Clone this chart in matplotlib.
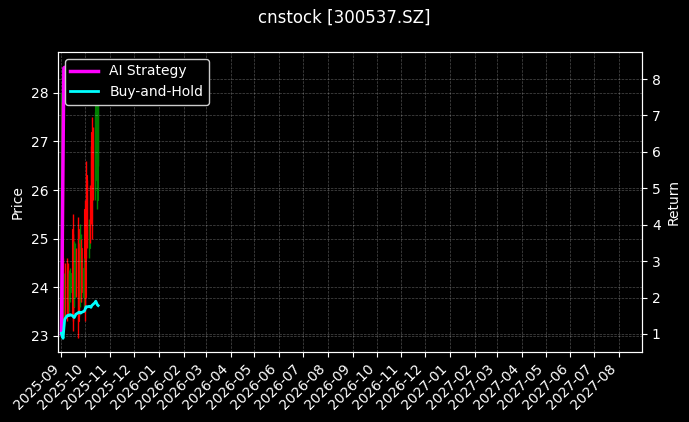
import numpy as np
import pandas as pd
import matplotlib
matplotlib.use("Agg")
import matplotlib.pyplot as plt
import matplotlib.dates as mdates

plt.style.use('dark_background')

dates = pd.bdate_range('2025-09-01', '2025-10-17')

opens = [23.6, 27.5, 24.3, 23.5, 24.1, 24.4, 24.2, 23.7, 23.8, 23.9,
         25.2, 24.8, 23.8, 24.0, 24.6, 25.2, 24.6, 23.7, 24.0, 24.8,
         23.8, 25.6, 25.2, 26.3, 25.9, 24.8, 25.8, 26.6, 27.2, 27.0,
         26.0, 26.6, 26.2, 25.8, 26.6]
highs = [28.0, 27.8, 24.6, 24.3, 24.5, 24.6, 24.5, 24.3, 24.35, 24.4,
         25.5, 25.1, 24.95, 24.9, 24.8, 25.45, 24.9, 25.3, 25.1, 25.0,
         24.6, 25.8, 25.5, 26.6, 26.2, 25.4, 26.1, 26.9, 27.5, 27.3,
         27.6, 28.2, 28.56, 28.0, 28.3]
lows = [23.4, 24.0, 23.3, 23.2, 23.4, 23.3, 23.4, 23.5, 23.7, 23.7,
        23.1, 23.3, 23.6, 23.9, 23.8, 22.95, 23.4, 23.6, 23.7, 23.7,
        23.6, 23.3, 23.6, 24.6, 24.8, 24.6, 24.9, 25.3, 25.0, 25.8,
        25.8, 26.4, 26.0, 25.6, 26.5]
closes = [27.7, 24.3, 23.5, 24.1, 23.6, 23.5, 23.7, 24.1, 24.2, 24.3,
          23.4, 23.6, 24.7, 24.6, 24.0, 23.3, 23.6, 25.0, 24.8, 23.9,
          24.4, 23.5, 23.8, 24.9, 25.0, 25.2, 25.1, 25.6, 25.4, 26.0,
          27.3, 27.9, 28.1, 27.6, 27.9]

ai_strategy = [1.0, 3.5, 6.0, 8.3, 8.32, 8.32, 8.3, 8.35, 8.33, 8.3,
               8.32, 8.34, 8.35, 8.33, 8.31, 8.3, 8.32, 8.34, 8.36, 8.35,
               8.33, 8.3, 8.31, 8.33, 8.35, 8.36, 8.34, 8.35, 8.37, 8.36,
               8.34, 8.35, 8.37, 8.36, 8.35]
buy_hold = [1.02, 0.95, 0.88, 1.15, 1.40, 1.50, 1.50, 1.52, 1.51, 1.53,
            1.50, 1.47, 1.45, 1.49, 1.54, 1.58, 1.60, 1.59, 1.57, 1.59,
            1.62, 1.64, 1.70, 1.75, 1.74, 1.76, 1.75, 1.73, 1.78, 1.80,
            1.86, 1.90, 1.85, 1.80, 1.78]

fig, ax1 = plt.subplots(figsize=(6.89, 4.22), dpi=100)
fig.subplots_adjust(left=0.084, right=0.932, top=0.877, bottom=0.166)

o = np.array(opens)
c = np.array(closes)
colors = np.where(c >= o, 'green', 'red')
ax1.vlines(dates, lows, highs, colors=colors, linewidth=1)
ax1.bar(dates, np.abs(c - o), bottom=np.minimum(o, c), width=0.8,
        color=colors, edgecolor=colors, linewidth=0.8)
ax1.set_ylabel('Price')
ax1.grid(True, linestyle='--', linewidth=0.5, alpha=0.3)

ax2 = ax1.twinx()
ax2.plot(dates, ai_strategy, color='magenta', linewidth=2.5, label='AI Strategy')
ax2.plot(dates, buy_hold, color='cyan', linewidth=2, label='Buy-and-Hold')
ax2.set_ylabel('Return')
ax2.grid(True, linestyle='--', linewidth=0.5, alpha=0.3)

ax1.set_xlim(pd.Timestamp('2025-08-27 12:00'), pd.Timestamp('2027-08-30'))
ax1.xaxis.set_major_locator(mdates.MonthLocator())
ax1.xaxis.set_major_formatter(mdates.DateFormatter('%Y-%m'))
plt.setp(ax1.get_xticklabels(), rotation=45, ha='right')

ax2.legend(loc='upper left', framealpha=1)
fig.suptitle('cnstock [300537.SZ]')

plt.savefig('out.png')
